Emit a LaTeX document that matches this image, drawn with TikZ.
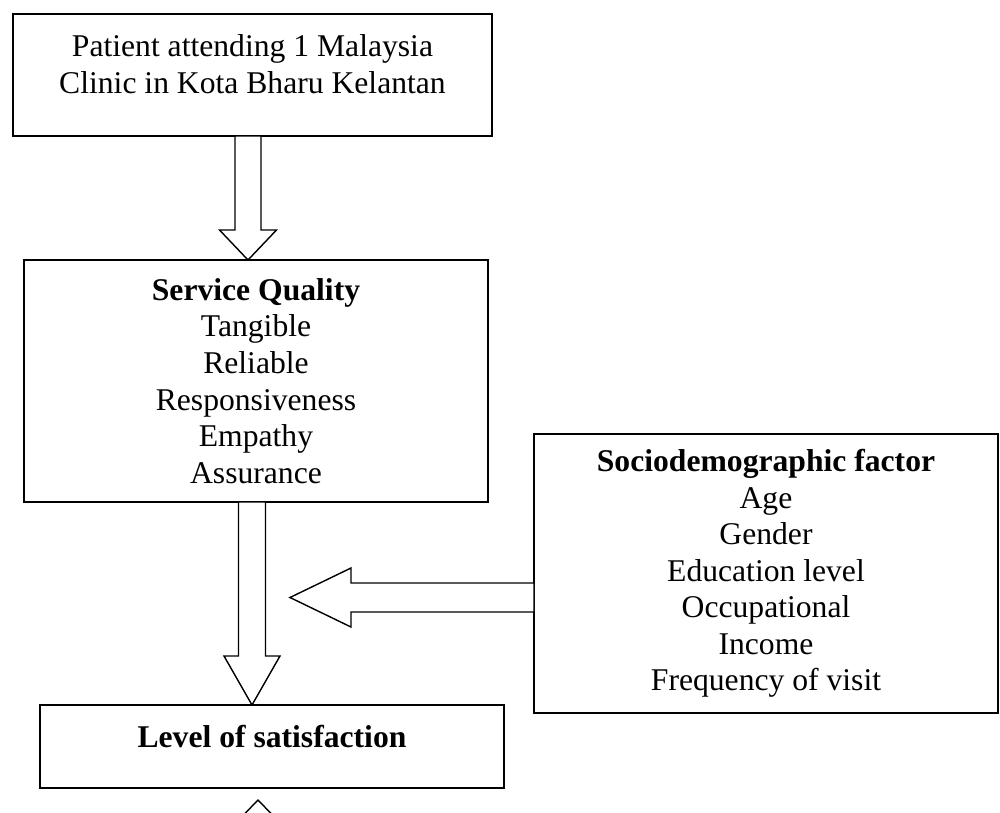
\documentclass[tikz,border=0pt]{standalone}
\usepackage{fontspec}
\setmainfont{Liberation Serif}
\usetikzlibrary{calc}

\begin{document}
\begin{tikzpicture}[x=0.2mm,y=-0.2mm,
        every node/.style={font=\fontsize{18}{20.8}\selectfont},
        box/.style={draw,line width=0.8pt,rectangle,inner sep=0pt,outer sep=0pt,align=center},
        txt/.style={align=center,inner sep=0pt},
        barrow/.style={draw,line width=0.8pt,fill=white,line join=miter}]
        \clip (0,0) rectangle (1000,812);
        \node[box,minimum width=95.8mm,minimum height=24.4mm] (pat) at (252.5,75) {};
        \node[txt] (pat-t) at ($(pat.center)+(0,-11)$) {Patient attending 1 Malaysia\\Clinic in Kota Bharu Kelantan};
        \node[box,minimum width=92.8mm,minimum height=48.4mm] (serv) at (256,381)
          {\textbf{Service Quality}\\Tangible\\Reliable\\Responsiveness\\Empathy\\Assurance};
        \node[box,minimum width=92.8mm,minimum height=55.8mm] (socio) at (766,573.5)
          {\textbf{Sociodemographic factor}\\Age\\Gender\\Education level\\Occupational\\Income\\Frequency of visit};
        \node[box,minimum width=92.8mm,minimum height=16.6mm] (sat) at (272,746.5) {};
        \node[txt] (sat-t) at ($(sat.center)+(0,-9.5)$) {\textbf{Level of satisfaction}};

        \coordinate (a1s) at ($(pat.south)+(-4.5,0)$);
        \coordinate (a1e) at ($(serv.north)+(-8,0)$);
        \draw[barrow] ($(a1s)+(-13,0)$) -- ($(a1e)+(-13,-30)$) -- ($(a1e)+(-28.5,-30)$) -- (a1e) --
          ($(a1e)+(28.5,-30)$) -- ($(a1e)+(13,-30)$) -- ($(a1s)+(13,0)$) -- cycle;

        \coordinate (a2s) at ($(serv.south)+(-4,0)$);
        \coordinate (a2e) at ($(sat.north)+(-20,0)$);
        \draw[barrow] ($(a2s)+(-13.5,0)$) -- ($(a2e)+(-13.5,-49)$) -- ($(a2e)+(-28,-49)$) -- (a2e) --
          ($(a2e)+(28,-49)$) -- ($(a2e)+(13.5,-49)$) -- ($(a2s)+(13.5,0)$) -- cycle;

        \coordinate (a3s) at ($(socio.west)+(0,24)$);
        \coordinate (a3e) at ($(a3s)+(-244,0)$);
        \draw[barrow] ($(a3s)+(0,-14.5)$) -- ($(a3e)+(61,-14.5)$) -- ($(a3e)+(61,-29.5)$) -- (a3e) --
          ($(a3e)+(61,29.5)$) -- ($(a3e)+(61,14.5)$) -- ($(a3s)+(0,14.5)$) -- cycle;

        \coordinate (a4e) at ($(sat.south)+(-14,12)$);
        \coordinate (a4s) at ($(a4e)+(0,80)$);
        \draw[barrow] ($(a4s)+(-13,0)$) -- ($(a4e)+(-13,30)$) -- ($(a4e)+(-29,30)$) -- (a4e) --
          ($(a4e)+(29,30)$) -- ($(a4e)+(13,30)$) -- ($(a4s)+(13,0)$) -- cycle;
\end{tikzpicture}
\end{document}
